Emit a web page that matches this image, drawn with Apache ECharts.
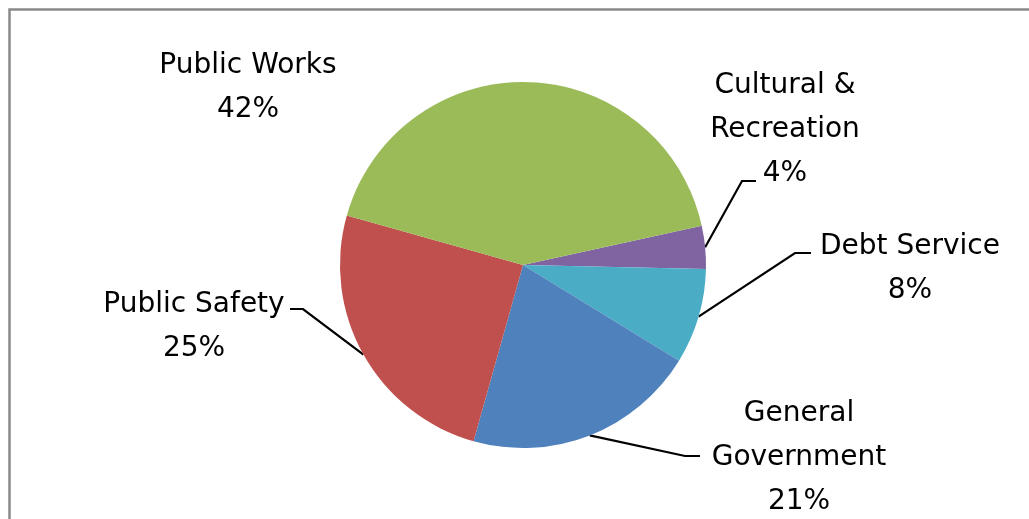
<!DOCTYPE html>
<html><head><meta charset="utf-8">
<script src="https://cdn.jsdelivr.net/npm/echarts@6/dist/echarts.min.js"></script>
<style>html,body{margin:0;padding:0;background:#fff}#chart{width:1029px;height:519px}</style>
</head><body><div id="chart"></div>
<script>
// ---- data ----
const categories = ['Cultural &\nRecreation', 'Debt Service', 'General\nGovernment', 'Public Safety', 'Public Works'];
const shares = [3.8, 8.4, 20.6, 25.0, 42.2];
const colors = ['#8064A2', '#4BACC6', '#4F81BD', '#C0504D', '#9BBB59'];

// ---- label layout (px): centre of each label block, leader-line end offset from centre, elbow dx ----
const labelCenters = [[785, 127], [910, 266], [799, 455], [194, 324], [248, 85]];
const lineEnds = [[-29, 54], [-99, -13], [-99, 1], [96, -15], null];
const elbowDx = [-14, -16, -15, 13, 0];
const textDy = 3;

const chart = echarts.init(document.getElementById('chart'), null, {renderer: 'canvas'});
chart.setOption({
  animation: false,
  backgroundColor: '#fff',
  graphic: [{
    type: 'rect', silent: true, z: -1,
    shape: {x: 9.5, y: 9.5, width: 1200, height: 800},
    style: {fill: 'none', stroke: '#8a8a8a', lineWidth: 2.5}
  }],
  series: [{
    type: 'pie',
    center: [523, 265],
    radius: 183,
    startAngle: 12.4,
    clockwise: true,
    silent: true,
    avoidLabelOverlap: false,
    itemStyle: {borderWidth: 0},
    emphasis: {disabled: true},
    label: {
      show: true,
      position: 'outside',
      color: '#000',
      fontFamily: 'DejaVu Sans',
      fontSize: 28,
      lineHeight: 44,
      align: 'center',
      formatter: p => p.name + '\n' + Math.round(p.percent) + '%'
    },
    labelLine: {show: true, length: 10, length2: 10, lineStyle: {color: '#000', width: 2.2}},
    labelLayout: function (p) {
      const i = p.dataIndex;
      const c = labelCenters[i];
      const res = {x: c[0], y: c[1] + textDy, align: 'center', verticalAlign: 'middle'};
      if (lineEnds[i] && p.labelLinePoints) {
        const p0 = p.labelLinePoints[0];
        const end = [c[0] + lineEnds[i][0], c[1] + lineEnds[i][1]];
        const elbow = [end[0] + elbowDx[i], end[1]];
        res.labelLinePoints = [[p0[0], p0[1]], elbow, end];
      }
      return res;
    },
    data: categories.map((name, i) => ({
      name: name,
      value: shares[i],
      itemStyle: {color: colors[i]},
      labelLine: {show: lineEnds[i] !== null}
    }))
  }]
});
</script>
</body></html>
